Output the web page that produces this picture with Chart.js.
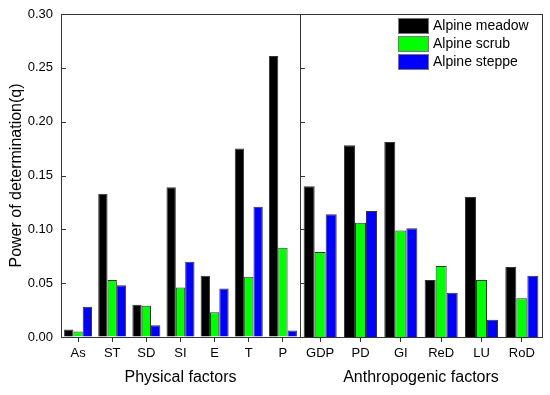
<!DOCTYPE html>
<html>
<head>
<meta charset="utf-8">
<script src="https://cdn.jsdelivr.net/npm/chart.js"></script>
<style>
  html, body { margin: 0; padding: 0; background: #fff; }
  #wrap { position: relative; width: 550px; height: 395px; }
  canvas { position: absolute; top: 0; }
</style>
</head>
<body>
<div id="wrap">
  <canvas id="left" width="302" height="395" style="left:0px"></canvas>
  <canvas id="right" width="260" height="395" style="left:290px"></canvas>
</div>
<script>
// categories
const physLabels = ["As", "ST", "SD", "SI", "E", "T", "P"];
const anthroLabels = ["GDP", "PD", "GI", "ReD", "LU", "RoD"];
const seriesNames = ["Alpine meadow", "Alpine scrub", "Alpine steppe"];
const seriesColors = ["#000000", "#00ff00", "#0000ff"];

// values
const meadowPhys = [0.007, 0.133, 0.030, 0.139, 0.057, 0.175, 0.261];
const scrubPhys = [0.005, 0.053, 0.029, 0.046, 0.023, 0.056, 0.083];
const steppePhys = [0.028, 0.048, 0.011, 0.070, 0.045, 0.121, 0.006];
const meadowAnthro = [0.140, 0.178, 0.181, 0.053, 0.130, 0.065];
const scrubAnthro = [0.079, 0.106, 0.099, 0.066, 0.053, 0.036];
const steppeAnthro = [0.114, 0.117, 0.101, 0.041, 0.016, 0.057];

const yMin = 0, yMax = 0.30, yStep = 0.05;
const FONT = '"Liberation Sans", Arial, sans-serif';

// frame round the plot and ticks pointing inwards
const framePlugin = {
  id: "frame",
  afterDatasetsDraw(chart) {
    const { ctx, chartArea: a, scales } = chart;
    ctx.save();
    ctx.strokeStyle = "#333";
    ctx.lineWidth = 1;
    ctx.strokeRect(a.left + 0.5, a.top + 0.5, a.right - a.left, a.bottom - a.top);
    ctx.beginPath();
    scales.y.ticks.forEach((t) => {
      const py = Math.round(scales.y.getPixelForValue(t.value)) + 0.5;
      ctx.moveTo(a.left, py);
      ctx.lineTo(a.left + 5, py);
    });
    ctx.stroke();
    ctx.restore();
  },
};

const legendPlugin = {
  id: "boxLegend",
  afterDraw(chart) {
    const { ctx, chartArea: a } = chart;
    ctx.save();
    chart.data.datasets.forEach((ds, i) => {
      const top = a.top + 4 + i * 18;
      ctx.fillStyle = ds.backgroundColor;
      ctx.fillRect(a.right - 144, top, 31, 16);
      ctx.strokeStyle = "#777";
      ctx.lineWidth = 1;
      ctx.strokeRect(a.right - 144 + 0.5, top + 0.5, 30, 15);
      ctx.fillStyle = "#000";
      ctx.font = "14px " + FONT;
      ctx.textBaseline = "middle";
      ctx.fillText(ds.label, a.right - 109, top + 8);
    });
    ctx.restore();
  },
};

// no extra room for labels at the ends, so both panels line up
function noEdgePadding(scale) {
  scale.paddingTop = 0;
  scale.paddingBottom = 0;
  scale.paddingLeft = 0;
  scale.paddingRight = 0;
}

function makeChart(id, labels, series, title, isLeft) {
  const ctx = document.getElementById(id).getContext("2d");
  return new Chart(ctx, {
    type: "bar",
    data: {
      labels: labels,
      datasets: series.map((d, i) => ({
        label: seriesNames[i],
        data: d,
        backgroundColor: seriesColors[i],
        borderColor: "#333",
        borderWidth: 1,
        borderSkipped: "bottom",
        categoryPercentage: 0.82,
        barPercentage: 1.0,
      })),
    },
    options: {
      responsive: false,
      animation: false,
      layout: {
        padding: isLeft
          ? { left: 0, right: 2, top: 14, bottom: 0 }
          : { left: 10, right: 8, top: 14, bottom: 0 },
      },
      plugins: {
        legend: { display: false },
        tooltip: { enabled: false },
      },
      scales: {
        x: {
          border: { display: false },
          grid: {
            offset: false,
            drawOnChartArea: false,
            drawTicks: true,
            tickLength: 5,
            color: "#333",
          },
          ticks: {
            color: "#000",
            font: { family: FONT, size: 13 },
            padding: 4,
            maxRotation: 0,
            autoSkip: false,
          },
          title: {
            display: true,
            text: title,
            color: "#000",
            font: { family: FONT, size: 16 },
            padding: { top: 0, bottom: 8 },
          },
          afterFit(scale) {
            scale.height = 58;
            noEdgePadding(scale);
          },
        },
        y: {
          display: isLeft,
          min: yMin,
          max: yMax,
          border: { display: false },
          grid: { drawOnChartArea: false, drawTicks: false },
          ticks: {
            stepSize: yStep,
            padding: 8,
            color: "#000",
            font: { family: FONT, size: 13 },
            callback: (v) => v.toFixed(2),
          },
          title: {
            display: true,
            text: "Power of determination(q)",
            color: "#000",
            font: { family: FONT, size: 16 },
            padding: { top: 7, bottom: 0 },
          },
          afterFit(scale) {
            scale.width = isLeft ? 61 : 0;
            noEdgePadding(scale);
          },
        },
      },
    },
    plugins: isLeft ? [framePlugin] : [framePlugin, legendPlugin],
  });
}

makeChart("left", physLabels, [meadowPhys, scrubPhys, steppePhys], "Physical factors", true);
makeChart("right", anthroLabels, [meadowAnthro, scrubAnthro, steppeAnthro], "Anthropogenic factors", false);
</script>
</body>
</html>
